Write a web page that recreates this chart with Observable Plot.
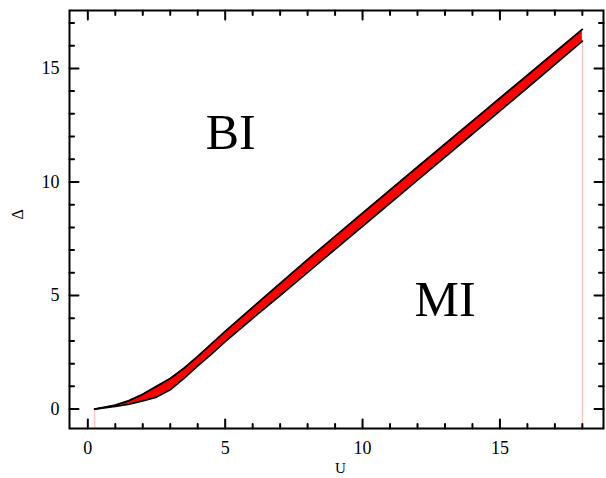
<!DOCTYPE html>
<html><head><meta charset="utf-8">
<script src="https://cdn.jsdelivr.net/npm/d3@7"></script>
<script src="https://cdn.jsdelivr.net/npm/@observablehq/plot@0.6"></script>
<style>body{margin:0;background:#fff}</style>
</head><body><div id="chart"></div>
<script>
// Phase boundary: U vs Delta, upper and lower estimates
const uValues   = [0.25, 1, 1.5, 2, 2.5, 3, 3.5, 4, 4.5, 5, 6, 7, 8, 10, 12, 14, 16, 18];
const deltaUpper = [0, 0.17, 0.37, 0.65, 1.0, 1.35, 1.8, 2.32, 2.87, 3.42, 4.48, 5.53, 6.58, 8.63, 10.66, 12.68, 14.7, 16.72];
const deltaLower = [0, 0.12, 0.22, 0.36, 0.53, 0.85, 1.35, 1.9, 2.42, 2.97, 4.0, 5.0, 6.02, 8.05, 10.08, 12.11, 14.15, 16.2];

const regionLabels = ["BI", "MI"];
const regionU      = [5.2, 13.0];
const regionDelta  = [12.15, 4.8];

const xMajor = [0, 5, 10, 15];
const xMinor = [1, 2, 3, 4, 6, 7, 8, 9, 11, 12, 13, 14, 16, 17, 18];
const yMajor = [0, 5, 10, 15];
const yMinor = [1, 2, 3, 4, 6, 7, 8, 9, 11, 12, 13, 14, 16, 17];

const xDomain = [-0.667, 18.77];
const yDomain = [-0.855, 17.55];

const band = uValues.map((u, i) => ({u, lo: deltaLower[i], hi: deltaUpper[i]}));
const edges = [band[0], band[band.length - 1]];

const tickShape = {draw(ctx, l) { ctx.moveTo(0, 0); ctx.lineTo(0, -l); }};
const FONT = "Liberation Serif, DejaVu Serif, serif";

function ticks(data, ch, anchor, rotate, len) {
  const o = {frameAnchor: anchor, rotate, length: len, anchor: "start", shape: tickShape,
             stroke: "black", strokeWidth: 2};
  o[ch] = d => d;
  return Plot.vector(data, o);
}

const chart = Plot.plot({
  width: 606,
  height: 478,
  marginLeft: 69,
  marginRight: 3,
  marginTop: 10,
  marginBottom: 50,
  style: {fontFamily: FONT, background: "white", color: "black"},
  x: {domain: xDomain},
  y: {domain: yDomain},
  marks: [
    Plot.ruleX(edges, {x: "u", y1: yDomain[0], y2: "lo", stroke: "#ffb3b3", strokeWidth: 1}),
    Plot.areaY(band, {x: "u", y1: "lo", y2: "hi", fill: "red"}),
    Plot.line(band, {x: "u", y: "hi", stroke: "black", strokeWidth: 1.8}),
    Plot.line(band, {x: "u", y: "lo", stroke: "black", strokeWidth: 1.8}),
    Plot.text(regionLabels, {x: (d, i) => regionU[i], y: (d, i) => regionDelta[i], text: d => d,
      fontSize: 50, fontFamily: FONT, fill: "black", lineAnchor: "middle"}),
    ticks(xMajor, "x", "bottom", 0, 9),
    ticks(xMinor, "x", "bottom", 0, 4.5),
    ticks(xMajor, "x", "top", 180, 9),
    ticks(xMinor, "x", "top", 180, 4.5),
    ticks(yMajor, "y", "left", 90, 9),
    ticks(yMinor, "y", "left", 90, 4.5),
    ticks(yMajor, "y", "right", -90, 9),
    ticks(yMinor, "y", "right", -90, 4.5),
    Plot.axisX({ticks: xMajor, tickSize: 0, tickPadding: 13, fontSize: 18, label: null}),
    Plot.axisY({ticks: yMajor, tickSize: 0, tickPadding: 10, fontSize: 18, label: null}),
    Plot.text(["U"], {frameAnchor: "bottom", dx: 4, dy: 40, fontSize: 15, fontFamily: FONT, lineAnchor: "middle"}),
    Plot.text(["Δ"], {frameAnchor: "left", dx: -52, rotate: -90, fontSize: 16, fontFamily: FONT, lineAnchor: "middle"}),
    Plot.frame({stroke: "black", strokeWidth: 2})
  ]
});
document.getElementById("chart").appendChild(chart);
</script>
</body></html>
